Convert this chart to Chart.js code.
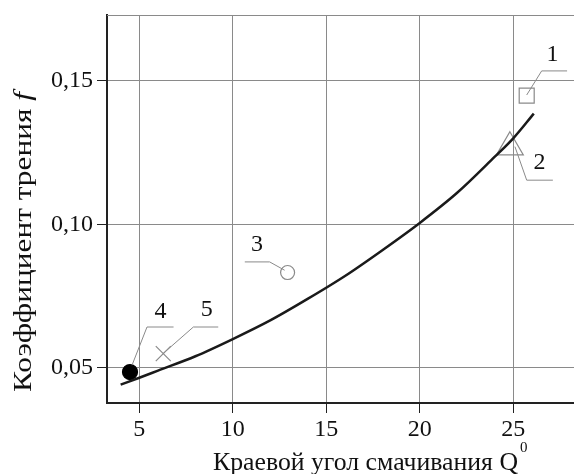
<!DOCTYPE html>
<html>
<head>
<meta charset="utf-8">
<script src="https://cdn.jsdelivr.net/npm/chart.js@4"></script>
<style>
  html, body { margin: 0; padding: 0; background: #fff; overflow: hidden; }
  #wrap { width: 574px; height: 474px; position: relative; }
  canvas { display: block; }
</style>
</head>
<body>
<div id="wrap"><canvas id="chart"></canvas></div>
<script>
"use strict";

// fitted curve
var curveX = [4, 5, 6, 8, 10, 12, 14, 16, 18, 20, 22, 24, 25, 26.1];
var curveY = [0.0441, 0.0465, 0.049, 0.054, 0.06, 0.0665, 0.074, 0.082, 0.091, 0.1005, 0.111, 0.1235, 0.13, 0.1386];

// experimental points 1..5
var pointNames = ["1", "2", "3", "4", "5"];
var pointX = [25.72, 24.82, 12.93, 4.5, 6.28];
var pointY = [0.1449, 0.1269, 0.0832, 0.0485, 0.0549];

// leader lines (3 points each) and label positions
var leaderX = [
  [25.72, 26.52, 27.88],
  [25.09, 25.72, 27.12],
  [12.77, 11.97, 10.64],
  [4.61, 5.41, 6.83],
  [6.28, 7.89, 9.22],
];
var leaderY = [
  [0.1451, 0.1535, 0.1535],
  [0.1271, 0.1154, 0.1154],
  [0.084, 0.0869, 0.0869],
  [0.0509, 0.0642, 0.0642],
  [0.055, 0.0642, 0.0642],
];
var labelX = [27.1, 26.4, 11.3, 6.13, 8.6];
var labelY = [0.159, 0.1214, 0.0928, 0.0697, 0.0704];

var xTicks = [5, 10, 15, 20, 25];
var yTicks = [0.05, 0.10, 0.15];
var yTickLabels = ["0,05", "0,10", "0,15"];

var FONT = "'Liberation Serif', 'DejaVu Serif', serif";

function toXY(xs, ys) {
  return xs.map(function (x, i) { return { x: x, y: ys[i] }; });
}

var datasets = [];

datasets.push({
  label: "curve",
  data: toXY(curveX, curveY),
  borderColor: "#1a1a1a",
  borderWidth: 2.5,
  pointRadius: 0,
  cubicInterpolationMode: "monotone",
  showLine: true,
  fill: false,
});

leaderX.forEach(function (lx, i) {
  datasets.push({
    label: "leader" + i,
    data: toXY(lx, leaderY[i]),
    borderColor: "#8a8a8a",
    borderWidth: 1,
    pointRadius: 0,
    showLine: true,
    tension: 0,
  });
});

var styles = ["rect", "triangle", "circle", "circle", "crossRot"];
var radii = [10.6, 15.5, 7, 7.5, 10.6];
var fills = ["rgba(0,0,0,0)", "rgba(0,0,0,0)", "rgba(0,0,0,0)", "#000", "rgba(0,0,0,0)"];
var strokes = ["#8a8a8a", "#8a8a8a", "#8a8a8a", "#000", "#8a8a8a"];

pointNames.forEach(function (n, i) {
  datasets.push({
    label: "p" + n,
    data: [{ x: pointX[i], y: pointY[i] }],
    pointStyle: styles[i],
    pointRadius: radii[i],
    pointBackgroundColor: fills[i],
    pointBorderColor: strokes[i],
    pointBorderWidth: 1.2,
    showLine: false,
  });
});

var decorPlugin = {
  id: "decor",
  afterDraw: function (chart) {
    var ctx = chart.ctx;
    var xs = chart.scales.x;
    var ys = chart.scales.y;
    var area = chart.chartArea;
    ctx.save();

    // thin top frame line
    ctx.strokeStyle = "#8a8a8a";
    ctx.lineWidth = 1;
    ctx.beginPath();
    ctx.moveTo(area.left, area.top + 0.5);
    ctx.lineTo(area.right, area.top + 0.5);
    ctx.stroke();

    // point labels
    ctx.fillStyle = "#111";
    ctx.font = "24px " + FONT;
    ctx.textAlign = "center";
    ctx.textBaseline = "middle";
    pointNames.forEach(function (n, i) {
      ctx.fillText(n, xs.getPixelForValue(labelX[i]), ys.getPixelForValue(labelY[i]));
    });

    // x title with superscript
    ctx.save();
    ctx.font = "25px " + FONT;
    ctx.textAlign = "left";
    ctx.textBaseline = "alphabetic";
    var t1 = "Краевой угол смачивания Q";
    var w1 = ctx.measureText(t1).width;
    ctx.translate(213, 470);
    ctx.scale(305 / w1, 1);
    ctx.fillText(t1, 0, 0);
    ctx.restore();
    ctx.font = "15px " + FONT;
    ctx.textAlign = "left";
    ctx.textBaseline = "alphabetic";
    ctx.fillText("0", 520, 452);

    // y title rotated, italic f
    ctx.translate(31, 242);
    ctx.rotate(-Math.PI / 2);
    ctx.font = "25px " + FONT;
    var t2 = "Коэффициент трения ";
    var w2 = ctx.measureText(t2).width;
    ctx.font = "italic 25px " + FONT;
    var w3 = ctx.measureText("f").width;
    ctx.scale(300 / (w2 + w3), 1);
    var start = -(w2 + w3) / 2;
    ctx.font = "25px " + FONT;
    ctx.fillText(t2, start, 0);
    ctx.font = "italic 25px " + FONT;
    ctx.fillText("f", start + w2, 0);

    ctx.restore();
  },
};

new Chart(document.getElementById("chart"), {
  type: "scatter",
  data: { datasets: datasets },
  options: {
    responsive: true,
    maintainAspectRatio: false,
    animation: false,
    layout: { autoPadding: false, padding: { top: 15, right: 0, left: 0, bottom: 0 } },
    plugins: {
      legend: { display: false },
      tooltip: { enabled: false },
    },
    scales: {
      x: {
        type: "linear",
        min: 3.27,
        max: 28.25,
        afterBuildTicks: function (scale) {
          scale.ticks = xTicks.map(function (v) { return { value: v }; });
        },
        afterFit: function (scale) {
          scale.height = 71;
          scale.paddingLeft = 0;
          scale.paddingRight = 0;
        },
        ticks: {
          color: "#111",
          font: { family: FONT, size: 24 },
          padding: 2,
          maxRotation: 0,
          callback: function (v) { return String(v); },
        },
        grid: {
          color: "#8a8a8a",
          lineWidth: 1,
          tickColor: "#222",
          tickLength: 10,
        },
        border: { color: "#222", width: 2 },
      },
      y: {
        type: "linear",
        min: 0.0377,
        max: 0.173,
        afterBuildTicks: function (scale) {
          scale.ticks = yTicks.map(function (v) { return { value: v }; });
        },
        afterFit: function (scale) {
          scale.width = 107;
          scale.paddingTop = 0;
          scale.paddingBottom = 0;
        },
        ticks: {
          color: "#111",
          font: { family: FONT, size: 24 },
          padding: 4,
          callback: function (v) {
            var i = yTicks.indexOf(v);
            return i >= 0 ? yTickLabels[i] : "";
          },
        },
        grid: {
          color: "#8a8a8a",
          lineWidth: 1,
          tickColor: "#222",
          tickLength: 10,
        },
        border: { color: "#222", width: 2 },
      },
    },
  },
  plugins: [decorPlugin],
});
</script>
</body>
</html>
